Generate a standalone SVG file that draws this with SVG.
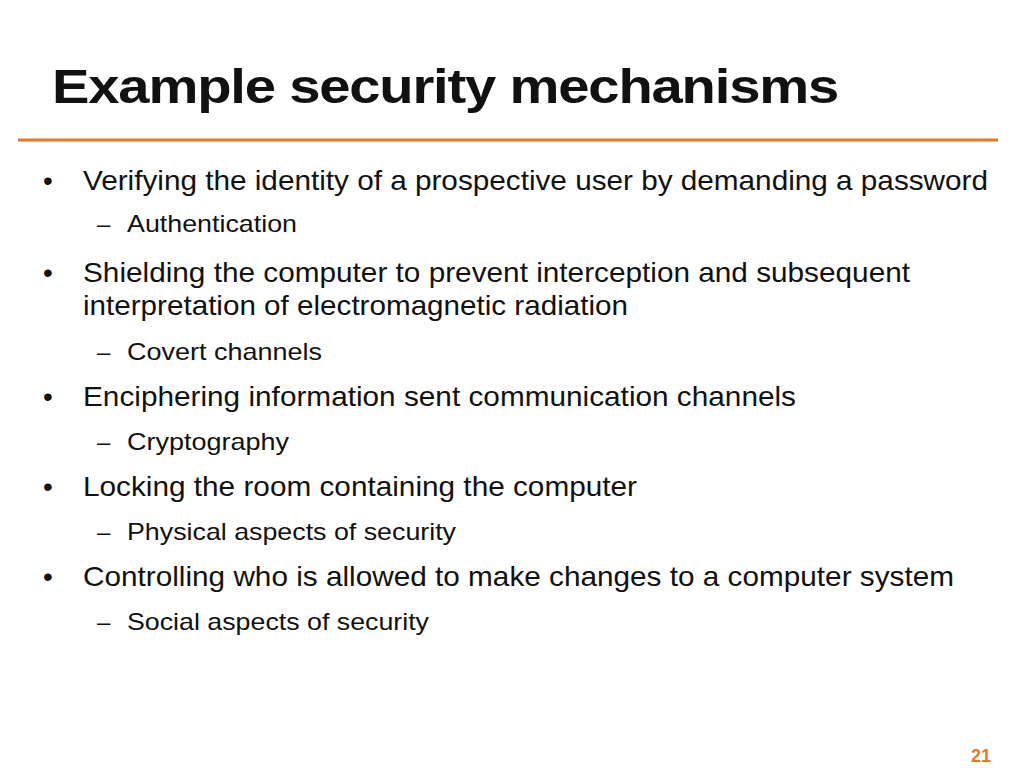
<svg xmlns="http://www.w3.org/2000/svg" width="1024" height="768" viewBox="0 0 1024 768">
<style>
.t{font-family:"Liberation Sans",Arial,sans-serif;fill:#111}
.h{font-size:48px;font-weight:bold;letter-spacing:-1px}
.b{font-size:28px}
.s{font-size:24px}
</style>
<rect width="1024" height="768" fill="#fff"/>
<text class="t h" x="52" y="103" textLength="786" lengthAdjust="spacingAndGlyphs">Example security mechanisms</text>
<line x1="18" y1="140" x2="998" y2="140" stroke="#E87722" stroke-width="3"/>
<g class="t b">
<text x="43" y="190">•</text><text x="83" y="190" textLength="905" lengthAdjust="spacingAndGlyphs">Verifying the identity of a prospective user by demanding a password</text>
<text x="43" y="282">•</text><text x="83" y="282" textLength="827" lengthAdjust="spacingAndGlyphs">Shielding the computer to prevent interception and subsequent</text>
<text x="83" y="315" textLength="545" lengthAdjust="spacingAndGlyphs">interpretation of electromagnetic radiation</text>
<text x="43" y="406">•</text><text x="83" y="406" textLength="713" lengthAdjust="spacingAndGlyphs">Enciphering information sent communication channels</text>
<text x="43" y="496">•</text><text x="83" y="496" textLength="554" lengthAdjust="spacingAndGlyphs">Locking the room containing the computer</text>
<text x="43" y="586">•</text><text x="83" y="586" textLength="871" lengthAdjust="spacingAndGlyphs">Controlling who is allowed to make changes to a computer system</text>
</g>
<g class="t s">
<text x="97" y="232">–</text><text x="127" y="232" textLength="170" lengthAdjust="spacingAndGlyphs">Authentication</text>
<text x="97" y="360">–</text><text x="127" y="360" textLength="195" lengthAdjust="spacingAndGlyphs">Covert channels</text>
<text x="97" y="450">–</text><text x="127" y="450" textLength="162" lengthAdjust="spacingAndGlyphs">Cryptography</text>
<text x="97" y="540">–</text><text x="127" y="540" textLength="329" lengthAdjust="spacingAndGlyphs">Physical aspects of security</text>
<text x="97" y="630">–</text><text x="127" y="630" textLength="302" lengthAdjust="spacingAndGlyphs">Social aspects of security</text>
</g>
<text x="971" y="762" style="font-family:'Liberation Sans',Arial,sans-serif;font-size:18px;font-weight:bold;fill:#E87722">21</text>
</svg>
